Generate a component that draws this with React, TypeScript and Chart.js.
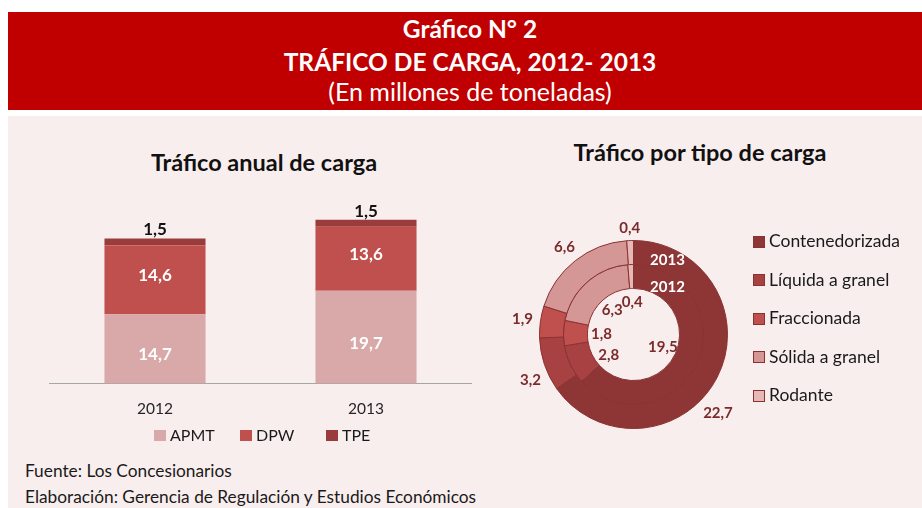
import React, { useEffect, useRef } from 'react';
import { Chart, registerables } from 'chart.js';

Chart.register(...registerables);

const FONT = 'Lato, "Open Sans", sans-serif';

// ---- Data: bar chart (Tráfico anual de carga) ----
const years = ['2012', '2013'];
const operators = ['APMT', 'DPW', 'TPE'];
const apmtValues = [14.7, 19.7];
const dpwValues = [14.6, 13.6];
const tpeValues = [1.5, 1.5];

// ---- Data: doughnut (Tráfico por tipo de carga) ----
const cargoTypes = ['Contenedorizada', 'Líquida a granel', 'Fraccionada', 'Sólida a granel', 'Rodante'];
const cargo2013 = [22.7, 3.2, 1.9, 6.6, 0.4];
const cargo2012 = [19.5, 2.8, 1.8, 6.3, 0.4];
const ringLabels = ['2013', '2012'];

const operatorColors = ['#D9A8A8', '#C0504D', '#9B3C3C'];
const cargoColors = ['#8E3535', '#A84242', '#C0504D', '#D59696', '#E6B9B8'];
const ringBorder = '#8A3232';

const fmt = (v: number) => v.toFixed(1).replace('.', ',');

const barLabels = {
  id: 'barLabels',
  afterDatasetsDraw(chart: any, _args: any, opts: any) {
    const ctx = chart.ctx;
    ctx.save();
    ctx.textAlign = 'center';
    ctx.font = `bold 17px ${FONT}`;
    chart.data.datasets.forEach((ds: any, di: number) => {
      const meta = chart.getDatasetMeta(di);
      const dy = (opts.offsets && opts.offsets[di]) || 0;
      meta.data.forEach((bar: any, i: number) => {
        const v = ds.data[i];
        const { x, y, base } = bar.getProps(['x', 'y', 'base'], true);
        if (di === chart.data.datasets.length - 1) {
          ctx.fillStyle = '#111111';
          ctx.textBaseline = 'alphabetic';
          ctx.fillText(fmt(v), x, y - 3);
        } else {
          ctx.fillStyle = '#ffffff';
          ctx.textBaseline = 'middle';
          ctx.fillText(fmt(v), x, (y + base) / 2 + dy);
        }
      });
    });
    ctx.restore();
  },
};

const donutLabels = {
  id: 'donutLabels',
  afterDatasetsDraw(chart: any, _args: any, opts: any) {
    const ctx = chart.ctx;
    ctx.save();
    ctx.textAlign = 'center';
    ctx.textBaseline = 'middle';
    ctx.font = `bold 15px ${FONT}`;
    chart.data.datasets.forEach((ds: any, di: number) => {
      const meta = chart.getDatasetMeta(di);
      meta.data.forEach((arc: any, i: number) => {
        const p = arc.getProps(['x', 'y', 'startAngle', 'endAngle', 'innerRadius', 'outerRadius'], true);
        const shift = (opts.shift && opts.shift[di] && opts.shift[di][i]) || 0;
        const a = (p.startAngle + p.endAngle) / 2 + shift;
        const txt = fmt(ds.data[i]);
        const w = ctx.measureText(txt).width;
        let r;
        if (di === 0) {
          r = p.outerRadius + 7 + Math.abs(Math.cos(a)) * w / 2 + Math.abs(Math.sin(a)) * 5;
        } else {
          r = p.innerRadius - 14;
        }
        ctx.fillStyle = '#7B2B2B';
        ctx.fillText(txt, p.x + r * Math.cos(a), p.y + r * Math.sin(a));
      });
      const a0 = meta.data[0].getProps(['x', 'y', 'innerRadius', 'outerRadius'], true);
      const rm = (a0.innerRadius + a0.outerRadius) / 2;
      const dx = 34;
      ctx.fillStyle = '#ffffff';
      ctx.fillText(ds.label, a0.x + dx, a0.y - Math.sqrt(rm * rm - dx * dx));
    });
    ctx.restore();
  },
};

function BarChart() {
  const ref = useRef<HTMLCanvasElement>(null);
  useEffect(() => {
    const values = [apmtValues, dpwValues, tpeValues];
    const chart = new Chart(ref.current as HTMLCanvasElement, {
      type: 'bar',
      data: {
        labels: years,
        datasets: operators.map((op, i) => ({
          label: op,
          data: values[i],
          backgroundColor: operatorColors[i],
          borderWidth: 0,
        })),
      },
      options: {
        responsive: false,
        animation: false,
        layout: { padding: { left: 29.5, right: 34.5, top: 5.2, bottom: 0 } },
        datasets: { bar: { categoryPercentage: 1, barPercentage: 0.479 } },
        scales: {
          x: {
            stacked: true,
            grid: { display: false, drawTicks: false },
            border: { display: true, color: '#A6A6A6', width: 1 },
            ticks: { padding: 16, color: '#262626', font: { family: FONT, size: 15.5 } },
          },
          y: { stacked: true, display: false, min: 0, max: 40 },
        },
        plugins: {
          legend: { display: false },
          tooltip: { enabled: false },
          title: { display: false },
          barLabels: { offsets: { 0: 6, 1: -4 } },
        },
      } as any,
      plugins: [barLabels],
    });
    return () => chart.destroy();
  }, []);
  return (
    <canvas
      ref={ref}
      width={486}
      height={244}
      style={{ position: 'absolute', left: 20, top: 190, width: 486, height: 244, display: 'block' }}
    />
  );
}

function DonutChart() {
  const ref = useRef<HTMLCanvasElement>(null);
  useEffect(() => {
    const series = [cargo2013, cargo2012];
    const chart = new Chart(ref.current as HTMLCanvasElement, {
      type: 'doughnut',
      data: {
        labels: cargoTypes,
        datasets: ringLabels.map((lab, i) => ({
          label: lab,
          data: series[i],
          backgroundColor: cargoColors,
          borderColor: ringBorder,
          borderWidth: 1,
        })),
      },
      options: {
        responsive: false,
        animation: false,
        cutout: '49%',
        layout: { padding: 36 },
        plugins: {
          legend: { display: false },
          tooltip: { enabled: false },
          donutLabels: { shift: { 0: { 0: 0.27, 1: -0.09 }, 1: { 1: -0.24 } } },
        },
      } as any,
      plugins: [donutLabels],
    });
    return () => chart.destroy();
  }, []);
  return (
    <canvas
      ref={ref}
      width={261}
      height={261}
      style={{ position: 'absolute', left: 503, top: 204, width: 261, height: 261, display: 'block' }}
    />
  );
}

const abs = (o: any) => ({ position: 'absolute', whiteSpace: 'nowrap', lineHeight: 1, ...o });

export default function App() {
  const legendRows = [241.5, 280, 318.5, 357, 395.5];
  const barLegendX = [154, 240, 326];
  return (
    <div style={{ position: 'absolute', left: 0, top: 0, width: 922, height: 508, overflow: 'hidden', background: '#ffffff', fontFamily: FONT }}>
      <div style={{ position: 'absolute', left: 8, top: 12, width: 914, height: 98, background: '#C00000' }} />
      <div style={abs({ left: 0, width: 940, top: 16.6, textAlign: 'center', color: '#fff', fontWeight: 700, fontSize: 24.5 })}>Gráfico N° 2</div>
      <div style={abs({ left: 0, width: 940, top: 50, textAlign: 'center', color: '#fff', fontWeight: 700, fontSize: 24.5 })}>TRÁFICO DE CARGA, 2012- 2013</div>
      <div style={abs({ left: 0, width: 940, top: 78.5, textAlign: 'center', color: '#fff', fontWeight: 400, fontSize: 25 })}>(En millones de toneladas)</div>

      <div style={{ position: 'absolute', left: 8, top: 116, width: 914, height: 392, background: '#F9EEEE' }} />

      <div style={abs({ left: 0, width: 528, top: 150.9, textAlign: 'center', color: '#111', fontWeight: 700, fontSize: 23.5 })}>Tráfico anual de carga</div>
      <div style={abs({ left: 500, width: 400, top: 141.2, textAlign: 'center', color: '#111', fontWeight: 700, fontSize: 23.5 })}>Tráfico por tipo de carga</div>

      <BarChart />
      <DonutChart />

      {operators.map((op, i) => (
        <React.Fragment key={op}>
          <div style={{ position: 'absolute', left: barLegendX[i], top: 430, width: 12, height: 11, background: operatorColors[i] }} />
          <div style={abs({ left: barLegendX[i] + 16, top: 426.8, color: '#1a1a1a', fontSize: 16 })}>{op}</div>
        </React.Fragment>
      ))}

      {cargoTypes.map((c, i) => (
        <React.Fragment key={c}>
          <div style={{ position: 'absolute', left: 753, top: legendRows[i] - 6, width: 10, height: 10, background: cargoColors[i], border: `1px solid ${ringBorder}` }} />
          <div style={abs({ left: 769, top: legendRows[i] + 6.2 - 15.5, color: '#1a1a1a', fontSize: 17.5 })}>{c}</div>
        </React.Fragment>
      ))}

      <div style={abs({ left: 25, top: 461.5, color: '#1a1a1a', fontSize: 17.3 })}>Fuente: Los Concesionarios</div>
      <div style={abs({ left: 25, top: 488, color: '#1a1a1a', fontSize: 17.3 })}>Elaboración: Gerencia de Regulación y Estudios Económicos</div>
    </div>
  );
}
